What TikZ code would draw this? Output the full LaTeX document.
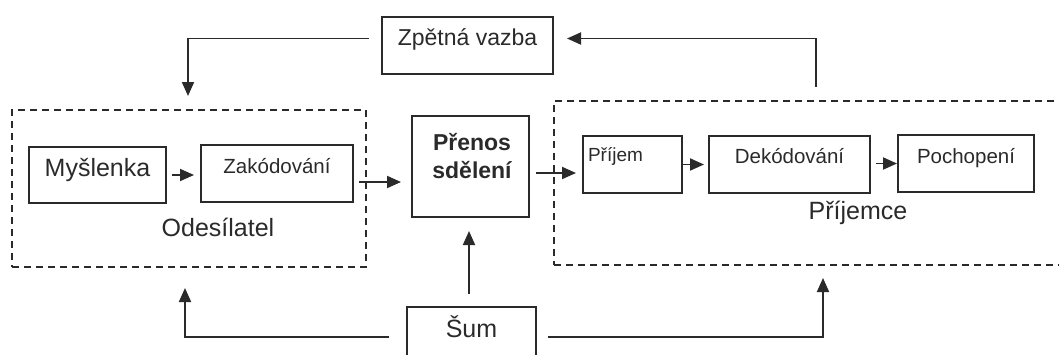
\documentclass[tikz,border=0pt]{standalone}
\usepackage{fontspec}
\setmainfont{Liberation Sans}
\usetikzlibrary{arrows.meta}
\definecolor{ink}{HTML}{2A2A2A}
\tikzset{
  box/.style={draw=ink, text=ink, line width=2pt, inner sep=0pt, text height=0.72em},
  group/.style={draw=ink, line width=1.9pt, dash pattern=on 7pt off 5pt, inner sep=0pt},
  arr/.style={draw=ink, line width=1.9pt, -{Triangle[length=14pt,width=12pt]}},
  lbl/.style={text=ink, inner sep=0pt},
  f25/.style={font=\fontsize{25}{30}\selectfont},
  f23/.style={font=\fontsize{23}{28}\selectfont},
  f21/.style={font=\fontsize{20.5}{25}\selectfont},
  f19/.style={font=\fontsize{19}{23}\selectfont},
}
\begin{document}
\begin{tikzpicture}[x=1pt,y=-1pt]
\useasboundingbox (0,0) rectangle (1059,354);
\clip (0,0) rectangle (1059,354);
% groups
\node[group, minimum width=354pt, minimum height=157pt] (ode) at (189,188.5) {};
\node[group, minimum width=540pt, minimum height=164pt] (pje) at (824,183) {};
\node[lbl, f25] (odel) at (218,227) {Odesílatel};
\node[lbl, f25] (pjel) at (858,213) {Příjemce};
% boxes
\node[box, f23, text depth=7.6pt, minimum width=171pt, minimum height=57pt] (zv) at (467.5,45.5) {Zpětná vazba};
\node[box, f25, text depth=4pt, minimum width=137pt, minimum height=56pt] (mys) at (97.5,175) {Myšlenka};
\node[box, f21, text depth=8pt, minimum width=152pt, minimum height=57pt] (zak) at (277,173.5) {Zakódování};
\node[box, minimum width=117pt, minimum height=101pt] (pre) at (470.5,166.5) {};
\node[lbl, align=center, font=\fontsize{23}{28}\selectfont\bfseries] (pret) at (472,156) {Přenos\\sdělení};
\node[box, f19, text depth=12.7pt, text width=89pt, align=left, inner xsep=5pt, minimum height=57pt] (pri) at (632.5,164.5) {Příjem};
\node[box, f21, text depth=9pt, minimum width=161pt, minimum height=57pt] (dek) at (789.5,164.5) {Dekódování};
\node[box, f21, text depth=7.8pt, minimum width=136pt, minimum height=57pt] (poc) at (966,163.5) {Pochopení};
\node[box, f25, text depth=0pt, minimum width=129pt, minimum height=53pt] (sum) at (471.5,333.5) {Šum};
% free ends
\coordinate (fbin) at (188,96);
\coordinate (rtop) at (816,87);
\coordinate (sleft) at (185,288);
\coordinate (sright) at (823,278);
% connectors
\draw[arr, shorten <=12pt] ([yshift=7pt]zv.west) -| (fbin);
\draw[arr, shorten >=13pt] (rtop) |- ([yshift=7pt]zv.east);
\draw[arr, shorten <=5pt, shorten >=6pt] (mys.east) -- (mys.east -| zak.west);
\draw[arr, shorten <=5pt, shorten >=10pt] ([yshift=-8.5pt]zak.east) -- ([yshift=-8.5pt]zak.east -| pre.west);
\draw[arr, shorten <=6pt, shorten >=6pt] ([yshift=-6.5pt]pre.east) -- ([yshift=-6.5pt]pre.east -| pri.west);
\draw[arr, shorten >=4pt] (pri.east) -- (pri.east -| dek.west);
\draw[arr, shorten <=5pt] ([yshift=1pt]dek.east) -- ([yshift=1pt]dek.east -| poc.west);
\draw[arr, shorten <=12pt, shorten >=13pt] ([xshift=-2.5pt]sum.north) -- ([xshift=-2.5pt]sum.north |- pre.south);
\draw[arr, shorten <=17pt] ([yshift=-3.5pt]sum.west) -| (sleft);
\draw[arr, shorten <=11pt] ([yshift=-3.5pt]sum.east) -| (sright);
\end{tikzpicture}
\end{document}
